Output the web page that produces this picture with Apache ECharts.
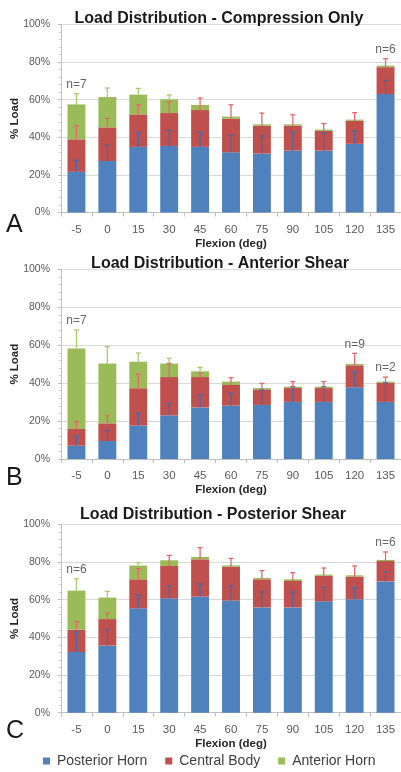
<!DOCTYPE html>
<html>
<head>
<meta charset="utf-8">
<script src="https://cdn.jsdelivr.net/npm/echarts@6/dist/echarts.min.js"></script>
<style>html,body{margin:0;padding:0;background:#fff;}#c{width:401px;height:772px;}</style>
</head>
<body>
<div id="c"></div>
<script>
var categories = ['-5','0','15','30','45','60','75','90','105','120','135'];
var seriesNames = ['Posterior Horn','Central Body','Anterior Horn'];
var yTicks = [0,20,40,60,80,100];

// Panel A - Compression Only
var aPost = [21.6, 27.4, 34.9, 35.4, 34.9, 32.0, 31.3, 32.9, 32.9, 36.5, 63.0];
var aCent = [17.3, 17.9, 17.3, 17.5, 19.6, 17.9, 14.9, 13.3, 10.5, 12.3, 14.3];
var aAnt  = [18.6, 16.1, 10.5, 7.3, 2.7, 1.1, 0.7, 0.7, 0.7, 0.6, 0.8];
var aPostErr = [6.2, 8.4, 7.6, 8.3, 7.9, 9.1, 9.4, 9.9, 9.6, 6.9, 7.3];
var aCentErr = [7.3, 4.8, 5.1, 6.0, 6.4, 7.4, 6.7, 5.8, 3.9, 4.3, 4.5];
var aAntErr  = [5.7, 4.8, 3.3, 2.3, 0, 0, 0, 0, 0, 0, 0];
var aN = ['n=7','','','','','','','','','','n=6'];

// Panel B - Anterior Shear
var bPost = [7.0, 9.5, 17.6, 23.0, 27.2, 28.1, 28.5, 30.1, 30.1, 37.8, 30.1];
var bCent = [8.8, 9.3, 19.7, 20.2, 16.0, 10.9, 8.2, 7.3, 7.3, 11.6, 10.1];
var bAnt  = [42.5, 31.6, 14.0, 7.1, 3.0, 1.8, 0.7, 0.7, 0.7, 0.7, 0.6];
var bPostErr = [5.1, 5.6, 6.5, 6.3, 6.7, 6.5, 7.9, 8.0, 8.0, 8.2, 10.1];
var bCentErr = [3.9, 4.0, 7.5, 7.2, 2.0, 3.9, 3.2, 3.4, 3.4, 6.3, 3.0];
var bAntErr  = [9.7, 8.8, 4.6, 2.8, 2.1, 0, 0, 0, 0, 0, 0];
var bN = ['n=7','','','','','','','','','n=9','n=2'];

// Panel C - Posterior Shear
var cPost = [32.2, 35.6, 55.4, 60.7, 61.6, 59.5, 55.9, 55.9, 59.1, 60.2, 69.7];
var cCent = [11.9, 14.1, 15.4, 17.2, 19.8, 18.0, 14.9, 14.0, 13.6, 12.0, 10.8];
var cAnt  = [20.7, 11.4, 7.3, 3.0, 1.3, 0.7, 0.7, 0.9, 0.6, 0.7, 0.6];
var cPostErr = [10.6, 8.5, 6.9, 6.6, 6.7, 7.8, 8.2, 8.2, 7.3, 6.3, 5.2];
var cCentErr = [4.2, 3.2, 5.7, 5.6, 6.2, 4.4, 4.6, 4.4, 4.1, 5.7, 4.8];
var cAntErr  = [6.2, 3.3, 1.5, 0, 0, 0, 0, 0, 0, 0, 0];
var cN = ['n=6','','','','','','','','','','n=6'];

var titles = ['Load Distribution - Compression Only','Load Distribution - Anterior Shear','Load Distribution - Posterior Shear'];
var letters = ['A','B','C'];

var COL = ['#4f81bd','#c0504d','#9bbb59'];
var ERRCOL = ['#4a69a8','#e06a6a','#a8cc6c'];
var FONT = 'Liberation Sans, Arial, sans-serif';

var panels = [
  {post:aPost,cent:aCent,ant:aAnt,errs:[aPostErr,aCentErr,aAntErr],n:aN},
  {post:bPost,cent:bCent,ant:bAnt,errs:[bPostErr,bCentErr,bAntErr],n:bN},
  {post:cPost,cent:cCent,ant:cAnt,errs:[cPostErr,cCentErr,cAntErr],n:cN}
];
var gridTops = [24.5, 269.3, 524.3];
var gridHeights = [188, 189.7, 188.4];
var titleTops = [6, 251, 502];
var titleLefts = [214, 215, 208];
var letterTops = [213, 466, 719];

var grids=[], xAxes=[], yAxes=[], series=[], titleArr=[], graphics=[];

function errRender(params, api){
  var i = api.value(0), top = api.value(1), et = api.value(2);
  if (et - top <= 0.05) return;
  var p0 = api.coord([i, top]), p1 = api.coord([i, et]);
  var st = {stroke: api.visual('color'), lineWidth: 1.3};
  return {type:'group', children:[
    {type:'line', shape:{x1:p0[0],y1:p0[1],x2:p1[0],y2:p1[1]}, style:st},
    {type:'line', shape:{x1:p1[0]-2.5,y1:p1[1],x2:p1[0]+2.5,y2:p1[1]}, style:st}
  ]};
}

panels.forEach(function(p, g){
  grids.push({left:61, right:0, top:gridTops[g], height:gridHeights[g], containLabel:false, outerBoundsMode:'none'});
  xAxes.push({type:'category', gridIndex:g, data:categories,
    name:'Flexion (deg)', nameLocation:'middle', nameGap:25, nameMoveOverlap:false,
    nameTextStyle:{fontFamily:FONT, fontWeight:'bold', fontSize:11.5, color:'#262626'},
    axisLine:{lineStyle:{color:'#bfbfbf'}},
    axisTick:{show:true, length:4, lineStyle:{color:'#bfbfbf'}},
    axisLabel:{fontFamily:FONT, fontSize:11.5, color:'#595959', margin:11}
  });
  yAxes.push({type:'value', gridIndex:g, min:0, max:100, interval:20,
    name:'% Load', nameLocation:'middle', nameGap:40, nameMoveOverlap:false,
    nameTextStyle:{fontFamily:FONT, fontWeight:'bold', fontSize:11.5, color:'#262626'},
    axisLine:{show:true, lineStyle:{color:'#bfbfbf'}},
    axisTick:{show:true, length:3, lineStyle:{color:'#bfbfbf'}},
    minorTick:{show:true, splitNumber:5, length:2, lineStyle:{color:'#d0d0d0'}},
    splitLine:{lineStyle:{color:'#d9d9d9'}},
    axisLabel:{fontFamily:FONT, fontSize:10.5, color:'#595959', margin:11, formatter:'{value}%'}
  });
  var segs = [p.post, p.cent, p.ant];
  segs.forEach(function(arr, k){
    series.push({type:'bar', name:seriesNames[k], xAxisIndex:g, yAxisIndex:g, stack:'s'+g,
      data:arr, barWidth:'58%', itemStyle:{color:COL[k]}, silent:true});
  });
  var maxTop = [];
  segs.forEach(function(arr, k){
    var d = [];
    for (var i=0;i<categories.length;i++){
      var top = 0;
      for (var m=0;m<=k;m++) top += segs[m][i];
      var et = top + p.errs[k][i];
      d.push([i, top, et]);
      maxTop[i] = Math.max(maxTop[i]||0, et);
    }
    series.push({type:'custom', xAxisIndex:g, yAxisIndex:g, renderItem:errRender,
      itemStyle:{color:ERRCOL[k]}, data:d, z:5, silent:true});
  });
  var nd = [];
  for (var i=0;i<categories.length;i++){
    if (p.n[i]) nd.push({value:[i, maxTop[i]], label:{formatter:p.n[i]}});
  }
  series.push({type:'scatter', xAxisIndex:g, yAxisIndex:g, symbolSize:0, data:nd, z:6, silent:true,
    label:{show:true, position:'top', distance:3, fontFamily:FONT, fontSize:12, color:'#404040'}});
  titleArr.push({text:titles[g], left:titleLefts[g], top:titleTops[g], textAlign:'center',
    textStyle:{fontFamily:FONT, fontWeight:'bold', fontSize:16, color:'#1a1a1a'}});
  graphics.push({type:'text', left:6, top:letterTops[g], style:{text:letters[g], font:'25px '+FONT, fill:'#1a1a1a'}});
});

var chart = echarts.init(document.getElementById('c'), null, {renderer:'canvas'});
chart.setOption({
  animation:false,
  title:titleArr,
  grid:grids, xAxis:xAxes, yAxis:yAxes, series:series,
  graphic:graphics,
  legend:{data:seriesNames, bottom:-1, left:38, icon:'rect', itemWidth:7, itemHeight:7, itemGap:18,
    selectedMode:false,
    textStyle:{fontFamily:FONT, fontSize:14, color:'#404040', padding:[0,0,0,2]}}
});
</script>
</body>
</html>
